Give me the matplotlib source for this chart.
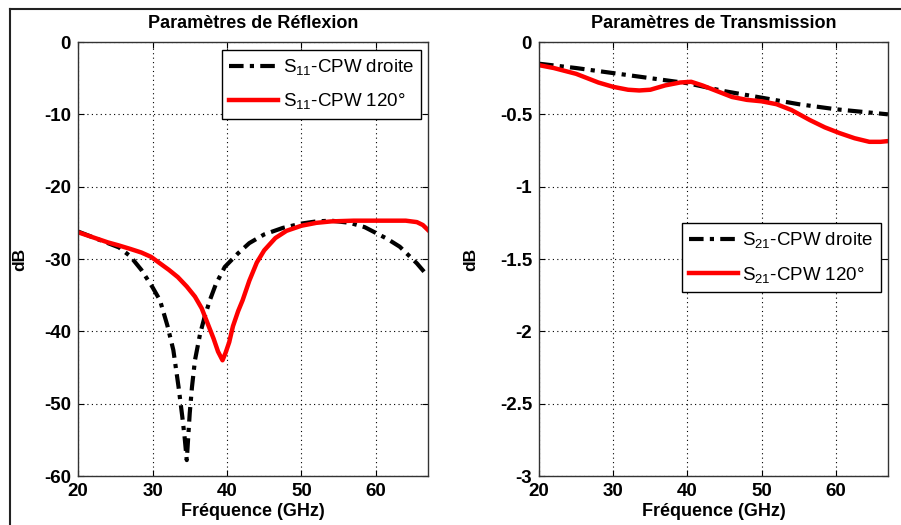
import matplotlib
matplotlib.use("Agg")
import matplotlib.pyplot as plt
from matplotlib.lines import Line2D
from matplotlib.ticker import FormatStrFormatter

plt.rcParams['font.family'] = ['Liberation Sans', 'DejaVu Sans']
plt.rcParams['mathtext.fontset'] = 'custom'
plt.rcParams['mathtext.rm'] = 'Liberation Sans'
plt.rcParams['mathtext.it'] = 'Liberation Sans'
plt.rcParams['axes.unicode_minus'] = False

# S11 - CPW droite (black dash-dot)
s11_droite_f = [20, 22, 24, 25.5, 27, 28.5, 30, 31, 32, 32.8, 33.5, 34, 34.3, 34.6, 35, 35.3,
                35.7, 36.4, 37, 37.7, 38.5, 39.7, 41.5, 43, 45, 47.5, 50, 52, 54, 56.5, 58.5,
                60, 61.5, 63.2, 65.5, 67]
s11_droite_db = [-26.2, -27.0, -27.8, -28.4, -29.6, -31.5, -33.9, -35.7, -39.2, -42.6, -47.7,
                 -51.8, -54.5, -57.8, -51.3, -47.7, -44.0, -40.3, -38.0, -35.7, -33.5, -31.1,
                 -29.2, -27.8, -26.6, -25.7, -25.1, -24.8, -24.7, -25.0, -25.6, -26.4, -27.2,
                 -28.3, -30.6, -32.4]

# S11 - CPW 120 (red)
s11_120_f = [20, 22, 24, 25.4, 27, 28.5, 29.8, 31, 32.2, 33.4, 34.6, 35.7, 36.6, 37.4, 38.2,
             38.8, 39.4, 39.8, 40.3, 40.8, 41.5, 42.1, 43, 44, 45, 46.5, 48, 50, 52, 54, 57,
             60, 62, 64, 65.5, 66.3, 67]
s11_120_db = [-26.3, -27.0, -27.7, -28.1, -28.6, -29.1, -29.7, -30.6, -31.5, -32.5, -33.8,
              -35.2, -36.8, -38.9, -41.0, -42.8, -44.0, -43.0, -41.5, -39.3, -37.2, -35.7,
              -33.0, -30.5, -28.8, -27.1, -26.1, -25.4, -25.0, -24.8, -24.7, -24.7, -24.7,
              -24.7, -24.9, -25.3, -26.0]

# S21 - CPW droite (black dash-dot)
s21_droite_f = [20, 25, 30, 35, 40, 45, 50, 55, 60, 63, 67]
s21_droite_db = [-0.15, -0.18, -0.215, -0.25, -0.285, -0.34, -0.385, -0.43, -0.465, -0.48, -0.5]

# S21 - CPW 120 (red)
s21_120_f = [20, 22, 25, 28, 30, 32, 33.5, 35, 37, 39, 40.5, 42, 44, 46, 48, 50, 52, 54,
             56.5, 58.5, 60.5, 62.5, 64.5, 66, 67]
s21_120_db = [-0.16, -0.18, -0.22, -0.28, -0.31, -0.33, -0.335, -0.33, -0.30, -0.28, -0.275,
              -0.30, -0.34, -0.38, -0.40, -0.41, -0.43, -0.47, -0.54, -0.59, -0.63, -0.665,
              -0.69, -0.69, -0.685]

x_ticks = [20, 30, 40, 50, 60]
refl_ticks = [0, -10, -20, -30, -40, -50, -60]
trans_ticks = [0, -0.5, -1, -1.5, -2, -2.5, -3]

dashdot = (0, (3.5, 1.5, 1, 1.5))

fig = plt.figure(figsize=(9.01, 5.25), dpi=100)
ax1 = fig.add_axes([0.0866, 0.0933, 0.3885, 0.8267])
ax2 = fig.add_axes([0.5982, 0.0933, 0.3873, 0.8267])


def style_axes(ax, yticks, ylim, title, label_x):
    ax.set_xlim(20, 67)
    ax.set_ylim(*ylim)
    ax.set_xticks(x_ticks)
    ax.set_yticks(yticks)
    ax.yaxis.set_major_formatter(FormatStrFormatter('%g'))
    ax.grid(True, color='black', linestyle=(0, (1, 3)), linewidth=0.8)
    ax.tick_params(direction='in', top=True, right=True, length=4, width=0.8,
                   labelsize=13.5, pad=5)
    for lbl in ax.get_xticklabels() + ax.get_yticklabels():
        lbl.set_fontweight('bold')
    for sp in ax.spines.values():
        sp.set_color('#333333')
        sp.set_linewidth(1.0)
    ax.set_title(title, fontsize=13, fontweight='bold', pad=10)
    ax.set_xlabel('Fréquence (GHz)', fontsize=13, fontweight='bold', labelpad=2)
    ax.set_ylabel('dB', fontsize=12.5, fontweight='bold')
    ax.yaxis.set_label_coords(label_x, 0.5)


ax1.plot(s11_droite_f, s11_droite_db, color='black', linestyle=dashdot, linewidth=3,
         label=r'S$_{11}$-CPW droite')
ax1.plot(s11_120_f, s11_120_db, color='red', linewidth=3.2, label=r'S$_{11}$-CPW 120°')
style_axes(ax1, refl_ticks, (-60, 0), 'Paramètres de Réflexion', -0.145)
leg1 = ax1.legend(loc='upper right', bbox_to_anchor=(0.98, 0.982), borderaxespad=0,
                  fontsize=13.5, handlelength=2.6, handletextpad=0.25, labelspacing=0.75,
                  fancybox=False, edgecolor='black', framealpha=1)
leg1.get_frame().set_linewidth(1.0)

ax2.plot(s21_droite_f, s21_droite_db, color='black', linestyle=dashdot, linewidth=3,
         label=r'S$_{21}$-CPW droite')
ax2.plot(s21_120_f, s21_120_db, color='red', linewidth=3.2, label=r'S$_{21}$-CPW 120°')
style_axes(ax2, trans_ticks, (-3, 0), 'Paramètres de Transmission', -0.175)
leg2 = ax2.legend(loc='upper right', bbox_to_anchor=(0.98, 0.583), borderaxespad=0,
                  fontsize=13.5, handlelength=2.6, handletextpad=0.25, labelspacing=0.75,
                  fancybox=False, edgecolor='black', framealpha=1)
leg2.get_frame().set_linewidth(1.0)

# outer frame lines (top and left)
fig.add_artist(Line2D([10 / 901, 1], [1 - 9 / 525, 1 - 9 / 525], transform=fig.transFigure,
                      color='#222222', linewidth=1.5))
fig.add_artist(Line2D([10 / 901, 10 / 901], [0, 1 - 9 / 525], transform=fig.transFigure,
                      color='#222222', linewidth=1.5))

fig.savefig('out.png', dpi=100)
